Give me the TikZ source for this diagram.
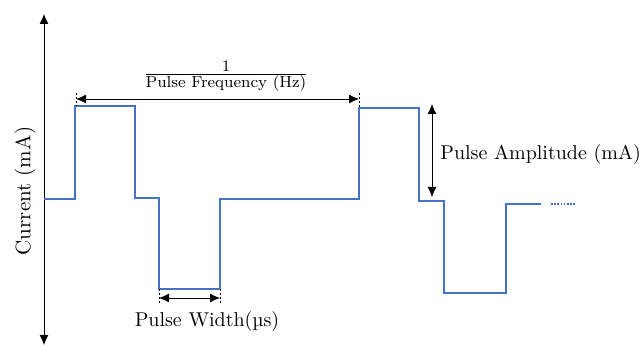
\documentclass[tikz,border=0pt]{standalone}
\usetikzlibrary{arrows.meta}
\definecolor{wave}{RGB}{68,114,196}
\begin{document}
\begin{tikzpicture}[x=0.5pt,y=-0.5pt,
  wavestyle/.style={draw=wave,line width=0.75pt},
  dimarrow/.style={draw=black,line width=0.4pt,{Latex[length=5pt,width=4.5pt]}-{Latex[length=5pt,width=4.5pt]}},
  axisarrow/.style={draw=black,line width=0.5pt,{Latex[length=5pt,width=4.5pt]}-{Latex[length=5pt,width=4.5pt]}},
  tick/.style={draw=black,line width=0.3pt,dash pattern=on 1pt off 1pt},
  lbl/.style={inner sep=0pt,font=\normalsize}]
\useasboundingbox (0,0) rectangle (643,347);
% axis
\coordinate (atop) at (44,14);
\coordinate (abot) at (44,345);
\draw[axisarrow] (atop) -- (abot);
\node[lbl,rotate=90,font=\fontsize{10.5}{12}\selectfont] (cur) at (25,191) {Current (mA)};
% waveform
\draw[wavestyle] (44,199) -- (75,199) -- (75,106) -- (135,106) -- (135,198) -- (159,198)
  -- (159,289) -- (220,289) -- (220,199) -- (359,199) -- (359,108) -- (419,108)
  -- (419,201) -- (444,201) -- (444,293) -- (506,293) -- (506,204) -- (541,204);
\draw[draw=wave,line width=0.75pt,dash pattern=on 0.8pt off 0.8pt] (551,204) -- (576,204);
% frequency dimension
\coordinate (f1) at (76,99);
\coordinate (f2) at (359,99);
\draw[tick] (76,93) -- (76,106);
\draw[tick] (359,93) -- (359,108);
\draw[dimarrow] (f1) -- (f2);
\node[lbl] (freq) at (226,76) {$\frac{\mbox{\footnotesize 1}}{\mbox{\footnotesize Pulse Frequency (Hz)}}$};
% amplitude dimension
\coordinate (a1) at (432,104);
\coordinate (a2) at (432,197);
\draw[dimarrow] (a1) -- (a2);
\node[lbl,anchor=west] (amp) at (440,155) {Pulse Amplitude (mA)};
% width dimension
\coordinate (w1) at (159,298);
\coordinate (w2) at (220,298);
\draw[tick] (159,289) -- (159,304);
\draw[tick] (220,289) -- (220,304);
\draw[dimarrow] (w1) -- (w2);
\node[lbl] (wid) at (207,322) {Pulse Width(µs)};
\end{tikzpicture}
\end{document}
